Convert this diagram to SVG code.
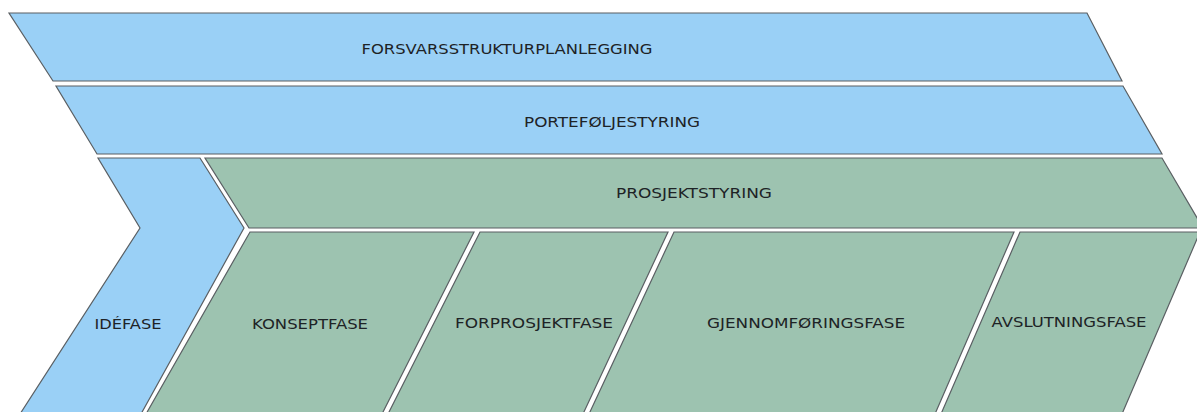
<svg xmlns="http://www.w3.org/2000/svg" width="1197" height="412" viewBox="0 0 1197 412">
<style>
.blue{fill:#9ad0f6;stroke:#5a5f63;stroke-width:1.2;stroke-linejoin:miter}
.green{fill:#9dc3b0;stroke:#5a5f63;stroke-width:1.2;stroke-linejoin:miter}
.lbl{font-family:"DejaVu Sans","Liberation Sans",sans-serif;font-size:13.5px;fill:#1e2326;text-anchor:middle}
</style>
<rect width="1197" height="412" fill="#ffffff"/>
<g id="forsvarsstrukturplanlegging">
<polygon class="blue" points="9,13 1087,13 1122,81 53,81"/>
<text class="lbl" x="507" y="54" textLength="291" lengthAdjust="spacingAndGlyphs">FORSVARSSTRUKTURPLANLEGGING</text>
</g>
<g id="portefoljestyring">
<polygon class="blue" points="56,86 1123,86 1162,154 97,154"/>
<text class="lbl" x="612" y="127" textLength="176" lengthAdjust="spacingAndGlyphs">PORTEFØLJESTYRING</text>
</g>
<g id="idefase">
<polygon class="blue" points="98,158 200,158 244,228 141,414 20,414 140,228"/>
<text class="lbl" x="128" y="329" textLength="67" lengthAdjust="spacingAndGlyphs">IDÉFASE</text>
</g>
<g id="prosjektstyring">
<polygon class="green" points="205,158 1162,158 1203,228 249,228"/>
<text class="lbl" x="694" y="198" textLength="156" lengthAdjust="spacingAndGlyphs">PROSJEKTSTYRING</text>
</g>
<g id="konseptfase">
<polygon class="green" points="250,232 474,232 382,414 146,414"/>
<text class="lbl" x="310" y="329" textLength="116" lengthAdjust="spacingAndGlyphs">KONSEPTFASE</text>
</g>
<g id="forprosjektfase">
<polygon class="green" points="480,232 668,232 583,414 388,414"/>
<text class="lbl" x="534" y="328" textLength="158" lengthAdjust="spacingAndGlyphs">FORPROSJEKTFASE</text>
</g>
<g id="gjennomforingsfase">
<polygon class="green" points="674,232 1014,232 935,414 589,414"/>
<text class="lbl" x="806" y="328" textLength="198" lengthAdjust="spacingAndGlyphs">GJENNOMFØRINGSFASE</text>
</g>
<g id="avslutningsfase">
<polygon class="green" points="1020,232 1200,232 1122,414 941,414"/>
<text class="lbl" x="1069" y="327" textLength="155" lengthAdjust="spacingAndGlyphs">AVSLUTNINGSFASE</text>
</g>
<g id="connectors"/>
</svg>
